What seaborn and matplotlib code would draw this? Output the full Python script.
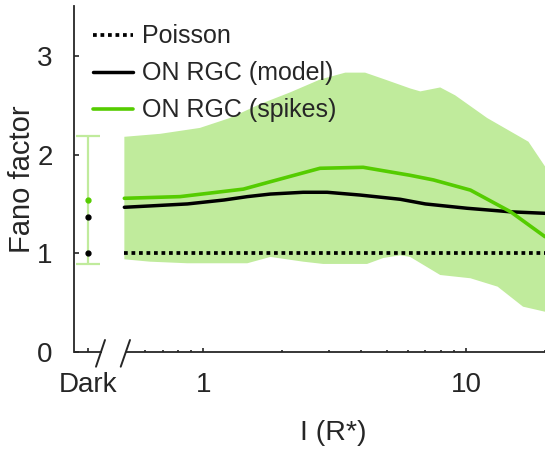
import numpy as np
import matplotlib
matplotlib.use('Agg')
import matplotlib.pyplot as plt
import seaborn as sns

# light levels (R*) and Fano factors
model_I = [0.5, 0.63, 0.87, 1.2, 1.47, 1.8, 2.4, 2.96, 3.95, 5.62, 7.0, 10.1, 14.8, 20.0]
model_fano = [1.466, 1.48, 1.50, 1.54, 1.574, 1.60, 1.618, 1.618, 1.59, 1.547, 1.50, 1.456, 1.42, 1.405]

spikes_I = [0.5, 0.815, 1.42, 1.80, 2.78, 4.06, 6.13, 7.52, 10.4, 14.8, 20.0]
spikes_fano = [1.557, 1.574, 1.65, 1.725, 1.861, 1.871, 1.79, 1.743, 1.64, 1.42, 1.168]

upper_I = [0.5, 0.684, 0.97, 1.26, 1.64, 2.14, 2.78, 3.47, 4.13, 4.92, 6.13, 6.70, 7.98, 9.1, 12.05, 17.3, 20.0]
upper_fano = [2.18, 2.21, 2.27, 2.37, 2.51, 2.63, 2.76, 2.83, 2.83, 2.76, 2.67, 2.64, 2.68, 2.60, 2.37, 2.13, 1.88]

lower_I = [0.5, 0.626, 0.868, 1.47, 1.80, 2.40, 2.86, 4.20, 4.84, 5.62, 6.13, 7.98, 10.4, 13.2, 16.5, 20.0]
lower_fano = [0.939, 0.915, 0.899, 0.899, 0.963, 0.915, 0.892, 0.892, 0.952, 0.98, 0.963, 0.78, 0.747, 0.662, 0.459, 0.408]

poisson_I = [0.5, 20.0]
poisson_fano = [1.0, 1.0]

# dark condition
dark_spikes = 1.54
dark_spikes_err = 0.65
dark_model = 1.37
dark_poisson = 1.0

green = '#55cc00'
light_green = '#c0eb9c'
axis_col = '#262626'
dark_x = 0.363  # where the "Dark" column sits left of the axis break

sns.set_style('ticks')
plt.rcParams['font.family'] = ['Liberation Sans', 'DejaVu Sans']

fig = plt.figure(figsize=(5.45, 4.49), dpi=100)
ax = fig.add_axes([74 / 545, 97 / 449, 471 / 545, 346 / 449])
ax.set_xscale('log')

# shaded spread of spike data
ax.fill(np.r_[upper_I, lower_I[::-1]], np.r_[upper_fano, lower_fano[::-1]],
        color=light_green, lw=0, zorder=1)

sns.lineplot(x=poisson_I, y=poisson_fano, ax=ax, color='black', lw=2.7,
             linestyle=(0, (1, 1)), dash_capstyle='butt', label='Poisson', zorder=3)
sns.lineplot(x=model_I, y=model_fano, ax=ax, color='black', lw=2.5,
             label='ON RGC (model)', zorder=3)
sns.lineplot(x=spikes_I, y=spikes_fano, ax=ax, color=green, lw=2.6,
             label='ON RGC (spikes)', zorder=4)

# dark column
ax.errorbar([dark_x], [dark_spikes], yerr=[dark_spikes_err], color=light_green,
            lw=1.6, capsize=8.3, capthick=1.6, fmt='none', zorder=2)
ax.plot([dark_x], [dark_spikes], 'o', color=green, ms=3.5, zorder=5)
ax.plot([dark_x, dark_x], [dark_model, dark_poisson], 'o', color='black', ms=3.5,
        lw=0, zorder=5)

ax.set_xlim(0.3215, 20.0)
ax.set_ylim(0, 3.505)
ax.set_yticks([0, 1, 2, 3])
ax.set_xticks([dark_x, 1, 10])
ax.set_xticklabels(['Dark', '1', '10'])
ax.set_xticks([0.6, 0.7, 0.8, 0.9, 2, 3, 4, 5, 6, 7, 8, 9, 20], minor=True)
ax.xaxis.set_minor_formatter(matplotlib.ticker.NullFormatter())

ax.tick_params(axis='both', which='both', direction='in', color=axis_col,
               labelcolor=axis_col, labelsize=20, width=1.2)
ax.tick_params(axis='x', which='major', length=3, pad=14.4)
ax.tick_params(axis='x', which='minor', length=1.7)
ax.tick_params(axis='y', which='major', length=3.6, pad=15.3)

for side in ['top', 'right', 'bottom']:
    ax.spines[side].set_visible(False)
ax.spines['left'].set_color(axis_col)
ax.spines['left'].set_linewidth(1.3)

# broken bottom axis
for x0, x1 in [(0, 0.0584), (0.110, 1.0)]:
    ax.plot([x0, x1], [0, 0], transform=ax.transAxes, color=axis_col, lw=1.3,
            clip_on=False, zorder=6, solid_capstyle='butt')
for x0, x1 in [(0.0467, 0.0658), (0.0992, 0.1189)]:
    ax.plot([x0, x1], [-0.0425, 0.0347], transform=ax.transAxes, color=axis_col,
            lw=1.4, clip_on=False, zorder=6)

ax.set_ylabel('Fano factor', fontsize=21, color=axis_col)
ax.yaxis.set_label_coords(-0.08, 0.5)
ax.set_xlabel('I (R*)', fontsize=20.5, color=axis_col)
ax.xaxis.set_label_coords(0.551, -0.197)

leg = ax.legend(loc='upper left', bbox_to_anchor=(0.04, 0.947), frameon=False,
                fontsize=18, handlelength=1.6, handletextpad=0.36,
                labelspacing=0.52, borderpad=0, borderaxespad=0)

fig.savefig('out.png', dpi=100)
